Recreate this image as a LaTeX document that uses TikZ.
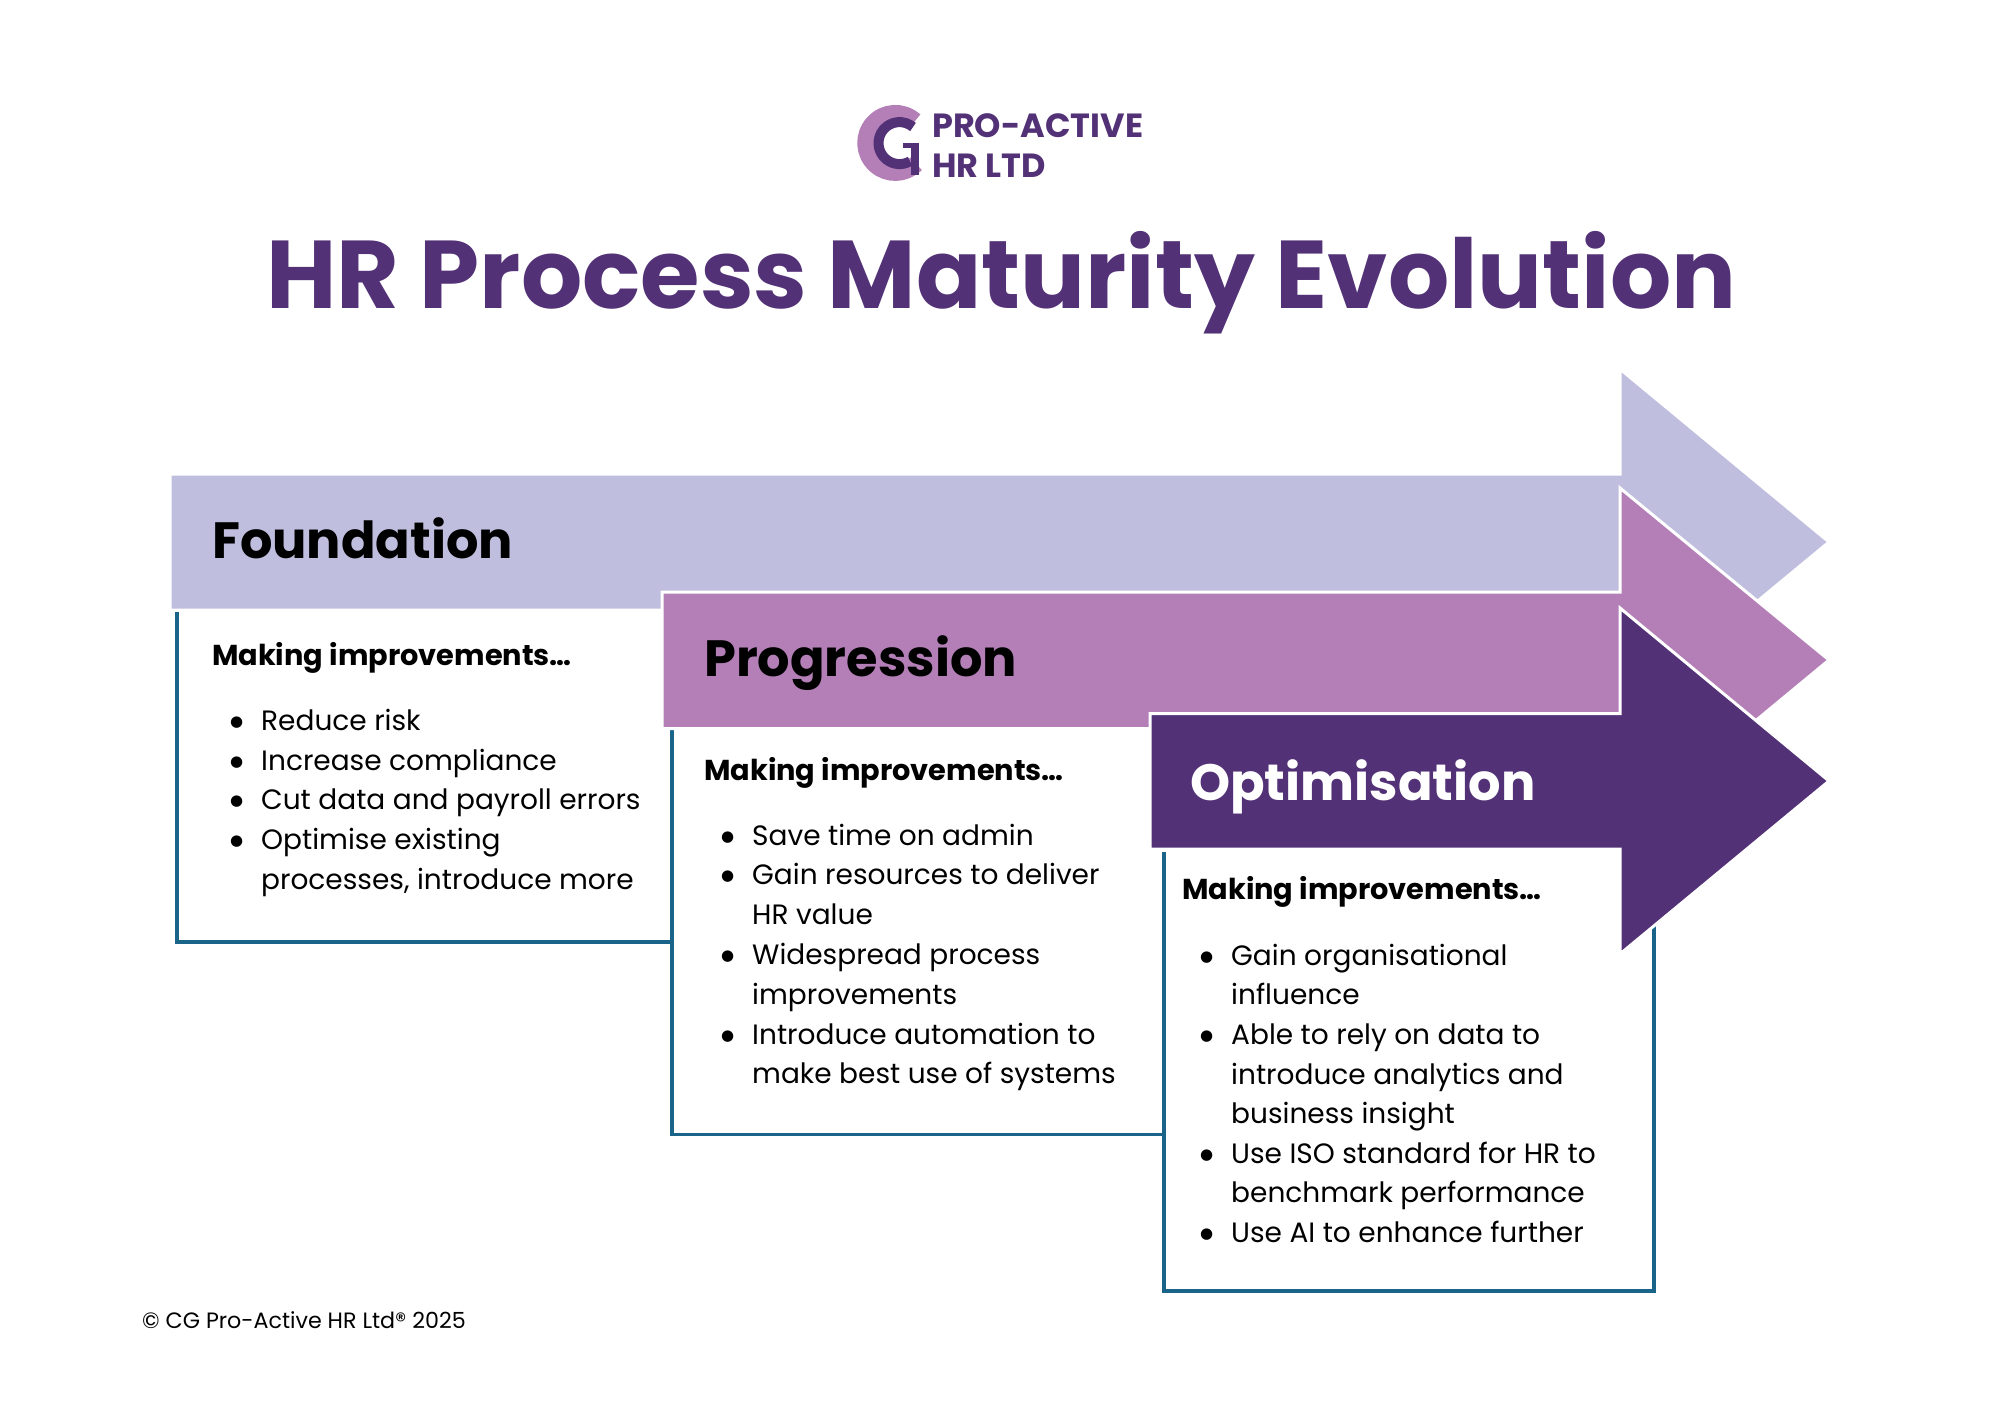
\documentclass[tikz,border=0pt]{standalone}
\usepackage{fontspec}
\setmainfont{Poppins}
\newfontfamily\bulfont{DejaVu Sans}
\definecolor{hrpurple}{HTML}{523176}
\definecolor{hrmauve}{HTML}{B37FB6}
\definecolor{hrlilac}{HTML}{BFBEDE}
\definecolor{hrblue}{HTML}{1B6489}
\newcommand{\bul}{\llap{\raisebox{4.5pt}[0pt][0pt]{\bulfont\fontsize{15}{15}\selectfont ●}\hspace{18pt}}}
\tikzset{
  stagearrow/.style={draw=white,line width=3pt,miter limit=10},
  framelineb/.style={draw=hrblue,line width=3.5pt},
  basetext/.style={anchor=base west,inner sep=0pt},
  stagetitle/.style={basetext,font=\bfseries\fontsize{51}{51}\selectfont},
  leadtext/.style={basetext,font=\bfseries\fontsize{28.8}{29}\selectfont},
  itemtext/.style={basetext,font=\fontsize{28}{28}\selectfont},
}
\begin{document}
\begin{tikzpicture}[x=1pt,y=-1pt]
  \useasboundingbox (0,0) rectangle (2000,1414);
  % logo
  \draw[hrmauve,line width=17pt] (915,121) arc (-48:-315:29.5);
  \draw[hrpurple,line width=10pt] (913,127) arc (-50:-300:21);
  \draw[hrpurple,line width=8pt] (915,143) -- (915,175);
  \draw[hrpurple,line width=5pt] (903,145.5) -- (919,145.5);
  \node[basetext,hrpurple,font=\bfseries\fontsize{33.5}{34}\selectfont] (logotop) at (932,137) {PRO-ACTIVE};
  \node[basetext,hrpurple,font=\bfseries\fontsize{33.5}{34}\selectfont] (logobot) at (932,177) {HR LTD};
  % title
  \node[basetext,hrpurple,font=\bfseries\fontsize{96.3}{97}\selectfont] (title) at (266,308) {HR Process Maturity Evolution};
  % boxes
  \draw[framelineb] (177,612) -- (177,942) -- (672,942);
  \draw[framelineb] (672,730) -- (672,1134.5) -- (1164,1134.5);
  \draw[framelineb] (1164,852) -- (1164,1291) -- (1654,1291) -- (1654,900);
  % arrows
  \fill[hrlilac,stagearrow] (170,474) -- (1620,474) -- (1620,369) -- (1829,542) -- (1620,715) -- (1620,610) -- (170,610) -- cycle;
  \fill[hrmauve,stagearrow] (662,592) -- (1620,592) -- (1620,488) -- (1829,660) -- (1620,833) -- (1620,728.5) -- (662,728.5) -- cycle;
  \fill[hrpurple,stagearrow] (1150,713.5) -- (1620,713.5) -- (1620,608) -- (1829,781) -- (1620,954) -- (1620,849) -- (1150,849) -- cycle;
  \node[stagetitle] (foundation) at (212,558) {Foundation};
  \node[stagetitle] (progression) at (704,676) {Progression};
  \node[stagetitle,white] (optimisation) at (1190,800) {Optimisation};
  \node[leadtext] (leadf) at (212,665) {Making improvements…};
  \node[leadtext] (leadp) at (704,780) {Making improvements…};
  \node[leadtext] (leado) at (1182,899.5) {Making improvements…};
  \foreach \y/\txt [count=\i] in {730.5/\bul Reduce risk,770.5/\bul Increase compliance,809.5/\bul Cut data and payroll errors,849.5/\bul Optimise existing,889.5/{processes, introduce more}}
    \node[itemtext] (itemf\i) at (261,\y) {\txt};
  \foreach \y/\txt [count=\i] in {845.5/\bul Save time on admin,884.5/\bul Gain resources to deliver,924.5/HR value,964.5/\bul Widespread process,1004.5/improvements,1044.5/\bul Introduce automation to,1083.5/make best use of systems}
    \node[itemtext] (itemp\i) at (752,\y) {\txt};
  \foreach \y/\txt [count=\i] in {965.5/\bul Gain organisational,1004.5/influence,1044.5/\bul Able to rely on data to,1084.5/introduce analytics and,1123.5/business insight,1163.5/\bul Use ISO standard for HR to,1202.5/benchmark performance,1242.5/\bul Use AI to enhance further}
    \node[itemtext] (itemo\i) at (1231,\y) {\txt};
  \node[basetext,font=\fontsize{22.2}{23}\selectfont] (copyright) at (142,1328) {© CG Pro-Active HR Ltd® 2025};
\end{tikzpicture}
\end{document}
